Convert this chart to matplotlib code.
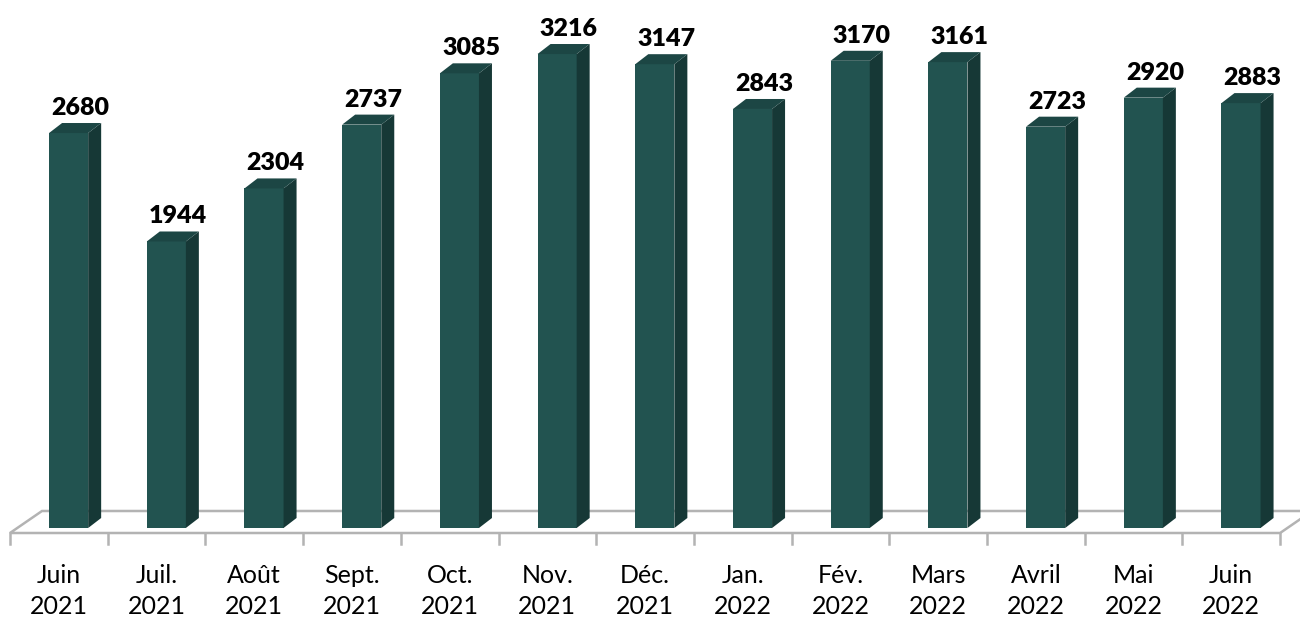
"""Monthly totals, June 2021 - June 2022, drawn as Excel-style 3D columns."""
import matplotlib
matplotlib.use('Agg')
import matplotlib.pyplot as plt
from matplotlib.patches import Polygon

plt.rcParams['font.family'] = ['Lato', 'DejaVu Sans']

months = ['Juin', 'Juil.', 'Août', 'Sept.', 'Oct.', 'Nov.', 'Déc.',
          'Jan.', 'Fév.', 'Mars', 'Avril', 'Mai', 'Juin']
years = ['2021'] * 7 + ['2022'] * 6
values = [2680, 1944, 2304, 2737, 3085, 3216, 3147,
          2843, 3170, 3161, 2723, 2920, 2883]

FRONT = '#225350'
SIDE = '#163836'
TOP = '#1c4644'
FLOOR = '#b3b3b3'

# data units per pixel (x: one category ~97.7 px, y: value units)
upx_x = 1 / 97.7
upx_y = 6.785

bar_left, bar_w = 0.40, 0.40
dx, dy = 13 * upx_x, 10 * upx_y          # bar depth
fdx, fdy = 32 * upx_x, 22 * upx_y        # floor depth
floor_front = -5 * upx_y
n = len(values)

fig = plt.figure(figsize=(13, 6.19), dpi=100)
ax = fig.add_axes([0, 0, 1, 1])
ax.set_xlim(-10 * upx_x, 1290 * upx_x)
ax.set_ylim(-91 * upx_y, 528 * upx_y)
ax.axis('off')

# floor
floor = Polygon([(0, floor_front), (n, floor_front),
                 (n + fdx, floor_front + fdy), (fdx, floor_front + fdy)],
                closed=True, facecolor='white', edgecolor=FLOOR, lw=1.8, zorder=1)
ax.add_patch(floor)
for i in range(n + 1):
    ax.plot([i, i], [floor_front, floor_front - 11 * upx_y], color=FLOOR, lw=1.8, zorder=1)

# columns
xs = [i + bar_left for i in range(n)]
ax.bar(xs, values, width=bar_w, align='edge', color=FRONT, zorder=3)
for x, v in zip(xs, values):
    r = x + bar_w
    ax.add_patch(Polygon([(r, 0), (r + dx, dy), (r + dx, v + dy), (r, v)],
                         closed=True, facecolor=SIDE, edgecolor='none', zorder=3))
    ax.add_patch(Polygon([(x, v), (r, v), (r + dx, v + dy), (x + dx, v + dy)],
                         closed=True, facecolor=TOP, edgecolor='none', zorder=3))
    ax.text(x + bar_w / 2 + dx * 0.9, v + dy + 8 * upx_y, f'{v}',
            ha='center', va='baseline', fontsize=18, fontweight='heavy', color='black')

# category labels
for i, (m, y) in enumerate(zip(months, years)):
    ax.text(i + 0.5, -63 * upx_y, f'{m}\n{y}', ha='center', va='center',
            fontsize=18, linespacing=1.4, color='black')

fig.savefig('out.png', dpi=100)
